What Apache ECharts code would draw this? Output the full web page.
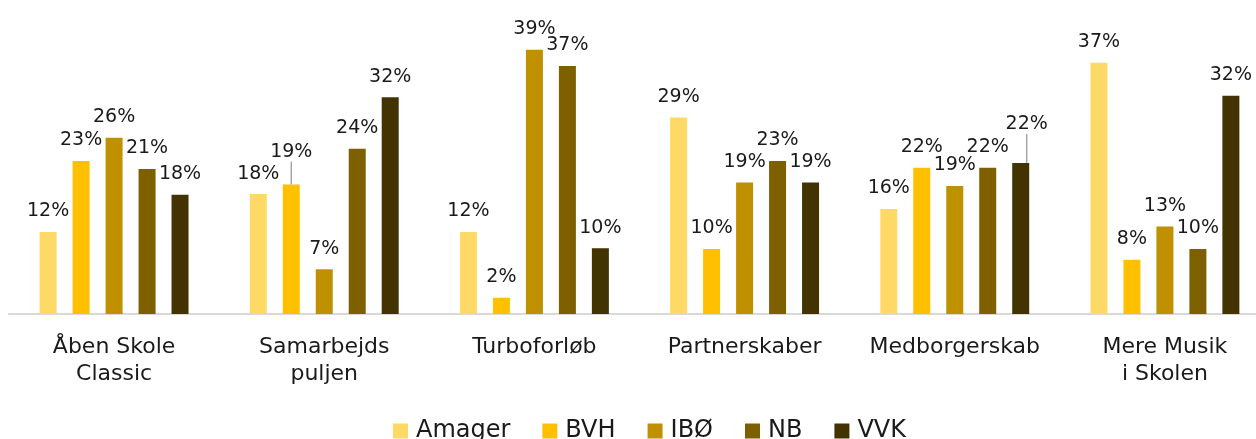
<!DOCTYPE html>
<html>
<head>
<meta charset="utf-8">
<script src="https://cdn.jsdelivr.net/npm/echarts@6/dist/echarts.min.js"></script>
<style>
  html, body { margin: 0; padding: 0; background: #fff; }
  #chart { width: 1256px; height: 439px; }
</style>
</head>
<body>
<div id="chart"></div>
<script>
const categories = ['Åben Skole\nClassic', 'Samarbejds\npuljen', 'Turboforløb', 'Partnerskaber', 'Medborgerskab', 'Mere Musik\ni Skolen'];
const seriesNames = ['Amager', 'BVH', 'IBØ', 'NB', 'VVK'];
const colors = ['#FFD966', '#FFC000', '#BF9000', '#7F6000', '#433300'];

// percentages
const amager = [12.1, 17.7, 12.1, 29.0, 15.5, 37.1];
const bvh    = [22.6, 19.1, 2.4, 9.6, 21.6, 8.0];
const ibo    = [26.0, 6.6, 39.0, 19.4, 18.9, 12.9];
const nb     = [21.4, 24.4, 36.6, 22.6, 21.6, 9.6];
const vvk    = [17.6, 32.0, 9.7, 19.4, 22.3, 32.2];
const values = [amager, bvh, ibo, nb, vvk];

// labels that were nudged in the original (series, category, dx, dy)
const moved = [
    [1, 1, 0, -12],
    [4, 4, 6, -18]
];

const FONT = 'DejaVu Sans';

const chart = echarts.init(document.getElementById('chart'));

function findMove(s, i) {
    for (const m of moved) {
        if (m[0] === s && m[1] === i) return m;
    }
    return null;
}

const series = seriesNames.map((name, s) => ({
    name: name,
    type: 'bar',
    data: values[s].map((v, i) => {
        if (findMove(s, i)) {
            return { value: v, labelLine: { show: true } };
        }
        return v;
    }),
    barWidth: 17,
    barGap: '94%',
    itemStyle: { color: colors[s] },
    label: {
        show: true,
        position: 'top',
        distance: 11,
        color: '#1a1a1a',
        fontFamily: FONT,
        fontSize: 19,
        formatter: p => Math.round(p.value) + '%'
    },
    labelLine: { show: false, lineStyle: { color: '#a6a6a6', width: 1.5 } },
    labelLayout: function(params) {
        const m = findMove(s, params.dataIndex);
        if (m) return { dx: m[2], dy: m[3] };
        return {};
    }
}));

chart.setOption({
    backgroundColor: '#fff',
    animation: false,
    legend: {
        data: seriesNames,
        bottom: -9,
        left: 388,
        itemWidth: 15,
        itemHeight: 15,
        itemGap: 32,
        icon: 'rect',
        textStyle: { fontFamily: FONT, fontSize: 24, color: '#1a1a1a', padding: [0, 0, 0, 3] }
    },
    grid: { left: 9, right: -14, top: 43, bottom: 125, outerBoundsMode: 'none' },
    xAxis: {
        type: 'category',
        data: categories,
        axisLine: { lineStyle: { color: '#d9d9d9', width: 2 } },
        axisTick: { show: false },
        axisLabel: {
            fontFamily: FONT,
            fontSize: 22,
            color: '#1a1a1a',
            lineHeight: 27,
            margin: 20,
            interval: 0
        }
    },
    yAxis: {
        type: 'value',
        min: 0,
        max: 40,
        show: false,
        splitLine: { show: false }
    },
    series: series
});
window.addEventListener('resize', () => chart.resize());
</script>
</body>
</html>
